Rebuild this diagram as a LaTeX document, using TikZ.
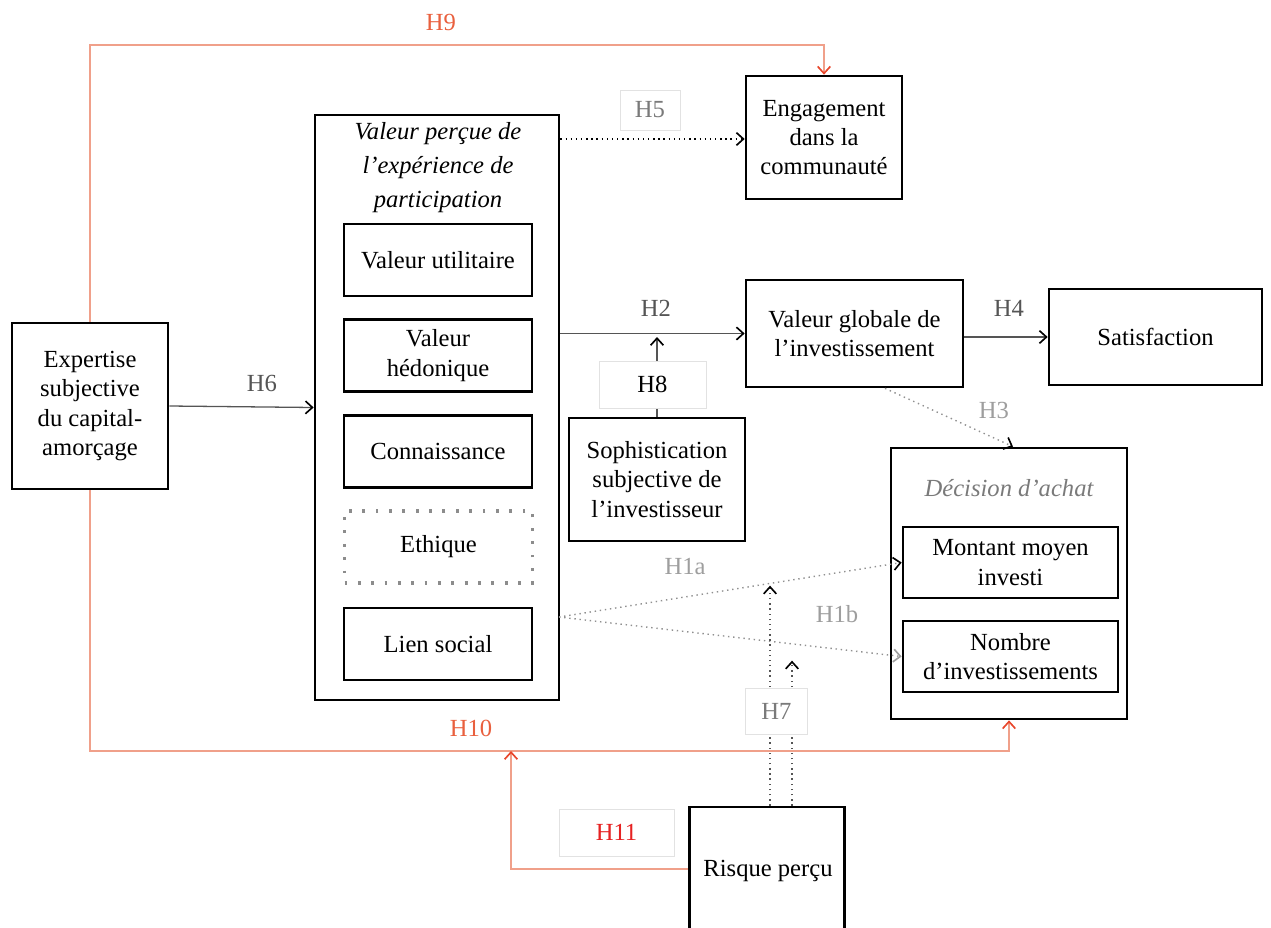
\documentclass[tikz,border=0pt]{standalone}
\usepackage{fontspec}
\setmainfont{Liberation Serif}
\usetikzlibrary{arrows.meta}
\definecolor{orline}{HTML}{F0A08A}
\definecolor{ortip}{HTML}{E8452A}
\definecolor{h9c}{HTML}{E9603E}
\definecolor{h11c}{HTML}{E62222}
\definecolor{labgray}{HTML}{E2E2E2}
\definecolor{lgray}{HTML}{9E9E9E}
\definecolor{mgray}{HTML}{7A7A7A}
\definecolor{conngray}{HTML}{555555}
\definecolor{dotgray}{HTML}{8C8C8C}
\definecolor{linedot}{HTML}{909090}
\begin{document}
\begin{tikzpicture}[x=0.03cm,y=-0.03cm,
  font=\fontsize{21}{25}\selectfont,
  box/.style={draw, line width=2.3pt, align=center, inner sep=0pt},
  inbox/.style={box, minimum width=5.64cm, minimum height=2.16cm},
  lab/.style={inner sep=1pt},
  labbox/.style={draw=labgray, line width=0.7pt, fill=white, inner sep=0pt},
  tipk/.style={-{Straight Barb[length=2.1mm,width=3.8mm,line width=1.4pt,color=black]}},
  tipg/.style={-{Straight Barb[length=2.1mm,width=3.8mm,line width=1.4pt,color=lgray]}},
  conn/.style={draw=conngray, line width=1.1pt, tipk},
  dotconn/.style={line width=1.2pt, dash pattern=on 1.2pt off 3.2pt, tipk},
  orconn/.style={draw=orline, line width=1.1pt, -{Straight Barb[length=2.1mm,width=3.8mm,line width=1.4pt,color=ortip]}}
]
\useasboundingbox (0,0) rectangle (1271,927);

% boxes
\node[box, minimum width=4.68cm, minimum height=4.98cm] (exp) at (90,406) {Expertise\\subjective\\du capital-\\amorçage};
\node[box, minimum width=7.32cm, minimum height=17.55cm] (vp) at (437,407.5) {};
\node[font=\itshape\fontsize{21}{29}\selectfont, align=center] (vptitle) at (438,168) {Valeur perçue de\\l’expérience de\\participation};
\node[inbox] (util) at (438,260) {Valeur utilitaire};
\node[inbox] (hed) at (438,355.5) {Valeur\\hédonique};
\node[inbox] (conn) at (438,451.5) {Connaissance};
\node[inbox, draw=dotgray, dash pattern=on 2.4pt off 9pt, line width=2.6pt] (eth) at (438.5,547) {Ethique};
\node[inbox] (lien) at (438,644) {Lien social};

\node[box, minimum width=4.68cm, minimum height=3.69cm] (eng) at (824,137.5) {Engagement\\dans la\\communauté};
\node[box, minimum width=6.51cm, minimum height=3.21cm] (vg) at (854.5,333.5) {Valeur globale de\\l’investissement};
\node[box, minimum width=6.39cm, minimum height=2.88cm] (sat) at (1155.5,337) {Satisfaction};
\node[box, minimum width=5.28cm, minimum height=3.69cm] (soph) at (657,479.5) {Sophistication\\subjective de\\l’investisseur};
\node[box, minimum width=7.08cm, minimum height=8.13cm] (dec) at (1009,583.5) {};
\node[font=\itshape\fontsize{21}{25}\selectfont, text=mgray] (dectitle) at (1009,488) {Décision d’achat};
\node[box, minimum width=6.45cm, minimum height=2.13cm] (mont) at (1010.5,562.5) {Montant moyen\\investi};
\node[box, minimum width=6.45cm, minimum height=2.13cm] (nomb) at (1010.5,656.5) {Nombre\\d’investissements};
\node[box, minimum width=4.65cm, minimum height=4.59cm] (risque) at (767,883.5) {};
\node (risquetxt) at (768,871) {Risque perçu};

% orange connectors
\coordinate (h9a) at (90,45);
\draw[orconn] (exp.north) -- (h9a) -| (eng.north);
\coordinate (h10a) at (90,751);
\draw[orconn] (exp.south) -- (h10a) -| (dec.south);
\coordinate (h11a) at (511,869);
\coordinate (h11b) at (511,751);
\draw[orconn] (h11a -| risque.west) -- (h11a) -- (h11b);

% solid connectors
\draw[conn] (exp.east) -- (vp.west);
\draw[conn] (vp.east |- vg.west) -- (vg.west);
\draw[conn] (vg.east |- sat.west) -- (sat.west);
\coordinate (h8tip) at (657,337);
\draw[conn] (soph.north) -- (h8tip);

% dotted connectors
\coordinate (h5y) at (0,139);
\draw[dotconn, draw=black] (vp.east |- h5y) -- (eng.west |- h5y);
\draw[dotconn, draw=linedot] ([xshift=0.915cm]vg.south) -- ([xshift=0.12cm]dec.north);
\coordinate (h1s) at (559,617);
\draw[dotconn, draw=linedot] (h1s) -- (mont.west);
\draw[dotconn, draw=linedot, tipg] (h1s) -- (nomb.west);
\draw[dotconn, draw=conngray] ([xshift=0.09cm]risque.north) -- ++(0,-220);
\draw[dotconn, draw=conngray] ([xshift=0.75cm]risque.north) -- ++(0,-145);

% labels
\node[lab, text=h9c] (h9) at (441,22) {H9};
\node[labbox, minimum width=1.8cm, minimum height=1.2cm, text=mgray] (h5) at (650,110) {H5};
\node[lab, text=conngray] (h2) at (656,308) {H2};
\node[lab, text=conngray] (h6) at (262,383) {H6};
\node[lab, text=conngray] (h4) at (1009,308) {H4};
\node[labbox, minimum width=3.21cm, minimum height=1.41cm] (h8) at (652.5,384.5) {H8};
\node[lab, text=lgray] (h3) at (994,410) {H3};
\node[lab, text=lgray] (h1a) at (685,566) {H1a};
\node[lab, text=lgray] (h1b) at (837,614) {H1b};
\node[labbox, minimum width=1.86cm, minimum height=1.38cm, text=mgray] (h7) at (776.5,711) {H7};
\node[lab, text=h9c] (h10) at (471,728) {H10};
\node[labbox, minimum width=3.45cm, minimum height=1.41cm, text=h11c] (h11) at (616.5,832.5) {H11};
\end{tikzpicture}
\end{document}
